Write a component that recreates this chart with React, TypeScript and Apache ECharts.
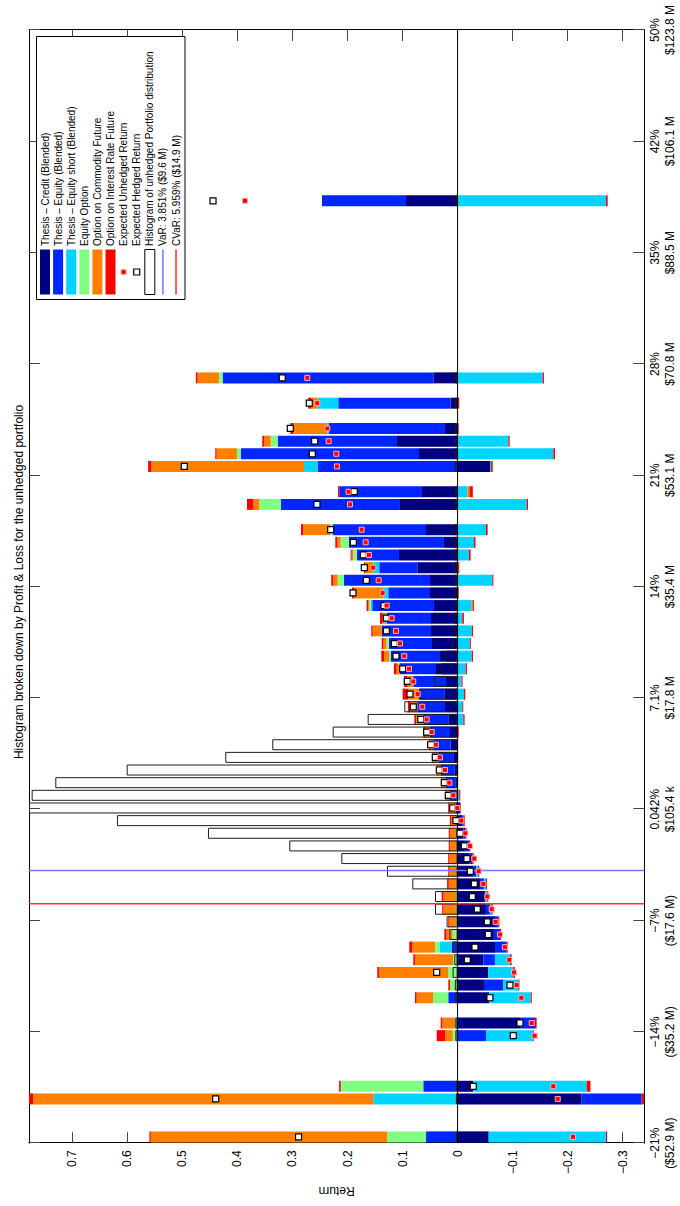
import React, { useEffect, useRef } from 'react';
import * as echarts from 'echarts';

const FONT = '"Liberation Sans", Arial, Helvetica, sans-serif';
const TITLE = 'Histogram broken down by Profit & Loss for the unhedged portfolio';

// 88 histogram bins (categories of the hidden bin axis)
const BIN_COUNT = 88;
const binIds = Array.from({ length: BIN_COUNT }, (_, i) => 'bin' + i);

// return axis (percent) with its tick labels
const returnAxisMin = -21.153;
const returnAxisMax = 49.497;
const returnTickValues = [-21.153, -14.088, -7.023, 0.042, 7.107, 14.172, 21.237, 28.302, 35.367, 42.432, 49.497];
const returnTickLabels = [
  '\u221221%\n($52.9 M)', '\u221214%\n($35.2 M)', '\u22127%\n($17.6 M)', '0.042%\n$105.4 k',
  '7.1%\n$17.8 M', '14%\n$35.4 M', '21%\n$53.1 M', '28%\n$70.8 M', '35%\n$88.5 M',
  '42%\n$106.1 M', '50%\n$123.8 M',
];

// value axis
const valueMin = -0.3393;
const valueMax = 0.7788;
const valueTicks = [-0.3, -0.2, -0.1, 0, 0.1, 0.2, 0.3, 0.4, 0.5, 0.6, 0.7];

const varReturn = -3.851;
const cvarReturn = -5.959;

// bins that hold scenarios (values below are aligned with this list)
const activeBins = [0, 3, 4, 8, 9, 11, 12, 13, 14, 15, 16, 17, 18, 19, 20, 21, 22, 23, 24, 25, 26, 27, 28, 29, 30, 31, 32, 33, 34, 35, 36, 37, 38, 39, 40, 41, 42, 43, 44, 45, 46, 47, 48, 50, 51, 53, 54, 55, 56, 58, 60, 74];

const creditPos = [
  0, 0, 0, 0, 0, 0, 0, 0, 0, 0,
  0, 0, 0, 0, 0, 0, 0, 0, 0, 0,
  0, 0.002, 0.003, 0.005, 0.0066, 0.0127, 0.0138, 0.0169, 0.0229, 0.0242,
  0.0211, 0.0392, 0.0319, 0.0465, 0.0483, 0.0483, 0.0429, 0.0501, 0.0501, 0.0732,
  0.1065, 0.0247, 0.0574, 0.1047, 0.0647, 0, 0.0701, 0.1101, 0.0229, 0.0127,
  0.044, 0.0938,
];
const equityPos = [
  0.0573, 0, 0.0623, 0, 0, 0.0169, 0, 0, 0, 0.0108,
  0, 0, 0, 0, 0, 0, 0, 0, 0, 0,
  0.003, 0.012, 0.0187, 0.0258, 0.0284, 0.0315, 0.0364, 0.0454, 0.0503, 0.0454,
  0.0594, 0.0655, 0.0897, 0.0782, 0.0897, 0.0806, 0.1121, 0.0758, 0.1563, 0.0691,
  0.0763, 0.1727, 0.1696, 0.2162, 0.1503, 0.2543, 0.3235, 0.2168, 0.2108, 0.2041,
  0.383, 0.1526,
];
const shortPos = [
  0, 0.1532, 0, 0, 0.004, 0, 0, 0, 0.003, 0.0212,
  0, 0, 0, 0, 0, 0, 0, 0, 0, 0,
  0, 0, 0, 0, 0, 0, 0, 0, 0, 0,
  0, 0, 0, 0, 0, 0.003, 0.003, 0.0091, 0, 0.0109,
  0, 0, 0, 0, 0, 0.0248, 0, 0, 0.003, 0.0375,
  0, 0,
];
const optionPos = [
  0.0707, 0, 0.15, 0.0089, 0, 0.0273, 0.0138, 0.0169, 0.005, 0.009,
  0.009, 0.003, 0.003, 0.003, 0, 0, 0, 0, 0, 0,
  0, 0, 0, 0, 0, 0, 0, 0, 0, 0,
  0, 0, 0.003, 0.0042, 0, 0, 0.0024, 0, 0.0115, 0,
  0.0067, 0.0151, 0.0049, 0.0394, 0, 0, 0.0073, 0.0127, 0, 0,
  0.0066, 0,
];
const commodityPos = [
  0.4296, 0.618, 0, 0.014, 0.0236, 0.0302, 0, 0.126, 0.0695, 0.0413,
  0.011, 0.012, 0.023, 0.023, 0.016, 0.015, 0.015, 0.014, 0.014, 0.012,
  0.012, 0.006, 0.006, 0.0054, 0.0092, 0.006, 0.009, 0.0133, 0.013, 0.02,
  0.011, 0.006, 0.009, 0.006, 0.0163, 0.0042, 0.0024, 0.0533, 0.008, 0.0138,
  0.003, 0.0061, 0.0485, 0.011, 0, 0.2779, 0.0369, 0.0122, 0.0618, 0.0121,
  0.039, 0,
];
const ratePos = [
  0.0024, 0.0076, 0.003, 0.015, 0.003, 0.003, 0.003, 0.003, 0.003, 0.0055,
  0.004, 0.002, 0.002, 0.003, 0.003, 0.002, 0.002, 0.002, 0.002, 0.002,
  0.002, 0.002, 0.002, 0.002, 0.002, 0.002, 0.003, 0.003, 0.004, 0.0102,
  0.006, 0.005, 0.005, 0.003, 0.0025, 0.0049, 0.0024, 0.0036, 0.0036, 0.003,
  0.0018, 0.0036, 0.0042, 0.0114, 0.0023, 0.0054, 0.0025, 0.0031, 0.0054, 0.0049,
  0.003, 0,
];
const creditNeg = [
  -0.0565, -0.2255, -0.0285, 0, -0.1134, -0.0576, -0.048, -0.0558, -0.0467, -0.068,
  -0.066, -0.0679, -0.0515, -0.0497, -0.0406, -0.0284, -0.0212, -0.0133, -0.0103, -0.009,
  -0.005, 0, 0, 0, 0, 0, 0, 0, 0, 0,
  0, 0, 0, 0, 0, 0, 0, 0, 0, 0,
  0, 0, 0, 0, 0, -0.0589, 0, 0, 0, 0,
  0, 0,
];
const equityNeg = [
  0, -0.109, 0, -0.0516, -0.0273, 0, -0.035, 0, -0.0212, -0.0212,
  -0.011, -0.006, -0.0073, 0, -0.0073, -0.006, -0.006, -0.0079, -0.004, -0.002,
  0, 0, 0, 0, 0, 0, 0, 0, 0, 0,
  0, 0, 0, 0, 0, 0, 0, 0, 0, 0,
  0, 0, 0, 0, 0, 0, 0, 0, 0, 0,
  0, 0,
];
const shortNeg = [
  -0.2132, 0, -0.206, -0.086, 0, -0.0752, -0.0273, -0.0454, -0.0272, 0,
  0, 0, -0.003, -0.0042, -0.0036, -0.003, 0, 0, 0, 0,
  0, -0.003, 0, 0, 0, 0, 0, -0.0104, -0.0085, -0.0117,
  -0.007, -0.0145, -0.026, -0.022, -0.026, -0.0085, -0.0256, 0, -0.063, 0,
  -0.0207, -0.0298, -0.0516, -0.1255, -0.0177, -0.002, -0.174, -0.0922, 0, 0,
  -0.1546, -0.2697,
];
const commodityNeg = [
  0, 0, 0, 0, 0, 0, 0, 0, 0, 0,
  0, 0, 0, 0, 0, 0, 0, 0, 0, 0,
  0, 0, 0, 0, 0, 0, 0, 0, 0, 0,
  0, 0, 0, 0, 0, 0, -0.002, 0, 0, -0.001,
  0, 0, 0, 0, -0.004, 0, 0, 0, 0, 0,
  0, 0,
];
const rateNeg = [
  -0.002, -0.0042, -0.007, -0.0015, -0.003, -0.002, -0.002, -0.003, -0.003, -0.002,
  -0.002, -0.002, -0.002, -0.002, -0.002, -0.002, -0.002, -0.002, -0.002, -0.002,
  -0.001, -0.002, -0.001, -0.001, -0.001, -0.001, -0.002, -0.0023, -0.0018, -0.0023,
  -0.002, -0.0025, -0.002, -0.002, -0.002, -0.003, -0.002, -0.002, -0.002, -0.002,
  -0.003, -0.0027, -0.003, -0.0025, -0.006, -0.003, -0.003, -0.0024, -0.002, -0.003,
  -0.0024, -0.003,
];
const histogram = [
  0.003, 0.003, 0.003, 0.004, 0.004, 0.004, 0.005, 0.009, 0.006, 0.01,
  0.015, 0.02, 0.041, 0.041, 0.0823, 0.1283, 0.2113, 0.3058, 0.4536, 0.619,
  0.7788, 0.774, 0.731, 0.6013, 0.4221, 0.3367, 0.227, 0.1634, 0.0968, 0.07,
  0.0423, 0.03, 0.022, 0.01, 0.006, 0.006, 0.006, 0.006, 0.006, 0.006,
  0.006, 0.006, 0.006, 0.005, 0.005, 0.005, 0.005, 0.005, 0.005, 0.005,
  0.005, 0.004,
];
const hedgedReturn = [
  0.289, 0.4396, -0.0285, -0.1012, -0.1134, -0.0588, -0.0952, 0.038, -0.0176, -0.0316,
  -0.0558, -0.054, -0.0358, -0.0267, -0.0304, -0.0231, -0.017, -0.0122, -0.0044, 0.003,
  0.0089, 0.0169, 0.0242, 0.0332, 0.0405, 0.0489, 0.0562, 0.067, 0.0805, 0.0865,
  0.0914, 0.0998, 0.112, 0.115, 0.1295, 0.1295, 0.1337, 0.1901, 0.1659, 0.1695,
  0.1713, 0.1895, 0.2306, 0.2555, 0.1877, 0.4966, 0.264, 0.2597, 0.304, 0.2695,
  0.3186, 0.4444,
];
const unhedgedReturn = [
  -0.2097, -0.182, -0.174, -0.14, -0.1347, -0.1158, -0.1074, -0.1025, -0.094, -0.086,
  -0.077, -0.069, -0.062, -0.054, -0.0467, -0.0383, -0.0304, -0.0225, -0.014, -0.0067,
  0.0005, 0.0078, 0.015, 0.0229, 0.032, 0.0393, 0.047, 0.0562, 0.0641, 0.0725,
  0.0805, 0.0883, 0.0968, 0.1047, 0.112, 0.1198, 0.1289, 0.1362, 0.1434, 0.1532,
  0.161, 0.167, 0.1743, 0.1955, 0.198, 0.2192, 0.2204, 0.2342, 0.2368, 0.2549,
  0.2731, 0.3863,
];

const components = [
  { name: 'Thesis \u2013 Credit (Blended)', color: '#000080', pos: creditPos, neg: creditNeg },
  { name: 'Thesis \u2013 Equity (Blended)', color: '#0026ff', pos: equityPos, neg: equityNeg },
  { name: 'Thesis \u2013 Equity short (Blended)', color: '#00d4ff', pos: shortPos, neg: shortNeg },
  { name: 'Equity Option', color: '#80ff80', pos: optionPos, neg: null as number[] | null },
  { name: 'Option on Commodity Future', color: '#ff8000', pos: commodityPos, neg: commodityNeg },
  { name: 'Option on Interest Rate Future', color: '#ff0000', pos: ratePos, neg: rateNeg },
];

const VAR_COLOR = '#7575ff';
const CVAR_COLOR = '#ff2e2e';

function expand(values: number[]): (number | null)[] {
  const out: (number | null)[] = new Array(BIN_COUNT).fill(null);
  activeBins.forEach((b, k) => {
    if (values[k] !== 0) out[b] = values[k];
  });
  return out;
}

function fmtValue(v: number): string {
  if (Math.abs(v) < 1e-9) return '0';
  const s = Math.abs(v).toFixed(1);
  return v < 0 ? '\u2212' + s : s;
}

function fmtReturn(v: number): string {
  let best = 0;
  let bd = Infinity;
  returnTickValues.forEach((t, i) => {
    const d = Math.abs(t - v);
    if (d < bd) { bd = d; best = i; }
  });
  return returnTickLabels[best];
}

function buildLegend() {
  const boxX = 906.5, boxY = 36.5, boxW = 263, boxH = 148.5;
  const symX = 911.5, symW = 45, textX = 960, row0 = 45, rowStep = 13.1;
  const els: any[] = [
    { type: 'rect', shape: { x: boxX, y: boxY, width: boxW, height: boxH }, style: { fill: '#fff', stroke: '#000', lineWidth: 1 }, z: 100 },
  ];
  const labels = [
    ...components.map((c) => c.name),
    'Expected Unhedged Return',
    'Expected Hedged Return',
    'Histogram of unhedged Portfolio distribution',
    'VaR: 3.851% ($9.6 M)',
    'CVaR: 5.959% ($14.9 M)',
  ];
  labels.forEach((label, k) => {
    const y = row0 + rowStep * k;
    if (k < 6) {
      els.push({ type: 'rect', shape: { x: symX, y: y - 5, width: symW, height: 10 }, style: { fill: components[k].color }, z: 101 });
    } else if (k === 6) {
      els.push({ type: 'rect', shape: { x: symX + symW / 2 - 2.5, y: y - 2.5, width: 5, height: 5 }, style: { fill: '#ff0000', stroke: '#ffb0b0', lineWidth: 1 }, z: 101 });
    } else if (k === 7) {
      els.push({ type: 'rect', shape: { x: symX + symW / 2 - 3, y: y - 3, width: 6, height: 6 }, style: { fill: '#fff', stroke: '#000', lineWidth: 1.2 }, z: 101 });
    } else if (k === 8) {
      els.push({ type: 'rect', shape: { x: symX, y: y - 5, width: symW, height: 10 }, style: { fill: '#fff', stroke: '#000', lineWidth: 1 }, z: 101 });
    } else {
      els.push({ type: 'line', shape: { x1: symX, y1: y, x2: symX + symW, y2: y }, style: { stroke: k === 9 ? VAR_COLOR : CVAR_COLOR, lineWidth: 1.5 }, z: 101 });
    }
    els.push({
      type: 'text', x: textX, y: y, z: 101,
      style: { text: label, fontSize: 10, fontFamily: FONT, fill: '#000', align: 'left', verticalAlign: 'middle', textAlign: 'left', textVerticalAlign: 'middle' },
    });
  });
  return els;
}

function buildOption() {
  const barCommon = { type: 'bar', xAxisIndex: 0, yAxisIndex: 0, barWidth: 11, barGap: '-100%', stack: 'pnl' };
  const posSeries = components.map((c) => ({ ...barCommon, name: c.name, data: expand(c.pos), itemStyle: { color: c.color }, z: 2 }));
  const negSeries = components
    .filter((c) => c.neg)
    .map((c) => ({ ...barCommon, name: c.name + ' (loss)', data: expand(c.neg as number[]), itemStyle: { color: c.color }, z: 2 }));

  const histSeries = {
    type: 'bar', name: 'Histogram of unhedged Portfolio distribution', xAxisIndex: 0, yAxisIndex: 0,
    barWidth: 11, barGap: '-100%', data: expand(histogram),
    itemStyle: { color: 'rgba(255,255,255,0)', borderColor: '#1e1e1e', borderWidth: 1 }, z: 3,
  };

  const vLine = (x: number, color: string, name: string) => ({
    type: 'line', name, xAxisIndex: 1, yAxisIndex: 0, symbol: 'none', silent: true,
    data: [[x, valueMin], [x, valueMax]], lineStyle: { color, width: 1.5 }, z: 5,
  });

  const zeroLine = {
    type: 'line', name: 'zero', xAxisIndex: 1, yAxisIndex: 0, symbol: 'none', silent: true,
    data: [[returnAxisMin, 0], [returnAxisMax, 0]], lineStyle: { color: '#000', width: 1 }, z: 4,
  };

  const hedged = {
    type: 'scatter', name: 'Expected Hedged Return', xAxisIndex: 0, yAxisIndex: 0,
    data: activeBins.map((b, k) => [b, hedgedReturn[k]]), symbol: 'rect', symbolSize: 6,
    itemStyle: { color: '#fff', borderColor: '#000', borderWidth: 1.2, opacity: 1 }, z: 6,
  };
  const unhedged = {
    type: 'scatter', name: 'Expected Unhedged Return', xAxisIndex: 0, yAxisIndex: 0,
    data: activeBins.map((b, k) => [b, unhedgedReturn[k]]), symbol: 'rect', symbolSize: 5,
    itemStyle: { color: '#ff0000', borderColor: '#ffb0b0', borderWidth: 1, opacity: 1 }, z: 7,
  };

  const tickStyle = { color: '#444', width: 1 };
  const lineStyle = { color: '#000', width: 1 };

  return {
    animation: false,
    backgroundColor: '#fff',
    textStyle: { fontFamily: FONT },
    title: {
      text: TITLE, left: 619, top: 8, textAlign: 'center',
      textStyle: { fontSize: 12, fontWeight: 'normal', color: '#000', fontFamily: FONT },
    },
    grid: { left: 62.8, right: 30, top: 29, bottom: 35.7, containLabel: false },
    xAxis: [
      { type: 'category', data: binIds, show: false, boundaryGap: true },
      {
        type: 'value', min: returnAxisMin, max: returnAxisMax, position: 'bottom',
        axisLine: { show: true, onZero: false, lineStyle },
        axisTick: { show: true, inside: true, length: 11, customValues: returnTickValues, lineStyle: tickStyle },
        axisLabel: { show: true, customValues: returnTickValues, formatter: fmtReturn, fontSize: 12, lineHeight: 15, margin: 3, color: '#000', fontFamily: FONT },
        splitLine: { show: false },
      },
      {
        type: 'value', min: returnAxisMin, max: returnAxisMax, position: 'top',
        axisLine: { show: true, onZero: false, lineStyle },
        axisTick: { show: true, inside: true, length: 11, customValues: returnTickValues, lineStyle: tickStyle },
        axisLabel: { show: false },
        splitLine: { show: false },
      },
    ],
    yAxis: [
      {
        type: 'value', min: valueMin, max: valueMax, position: 'left',
        name: 'Return', nameLocation: 'middle', nameGap: 41,
        nameTextStyle: { fontSize: 12, color: '#000', fontFamily: FONT },
        axisLine: { show: true, onZero: false, lineStyle },
        axisTick: { show: true, inside: true, length: 11, customValues: valueTicks, lineStyle: tickStyle },
        axisLabel: { show: true, customValues: valueTicks, formatter: fmtValue, fontSize: 12, margin: 7, color: '#000', fontFamily: FONT },
        splitLine: { show: false },
      },
      {
        type: 'value', min: valueMin, max: valueMax, position: 'right',
        axisLine: { show: true, onZero: false, lineStyle },
        axisTick: { show: true, inside: true, length: 11, customValues: valueTicks, lineStyle: tickStyle },
        axisLabel: { show: false },
        splitLine: { show: false },
      },
    ],
    graphic: buildLegend(),
    series: [
      ...posSeries,
      ...negSeries,
      histSeries,
      zeroLine,
      vLine(varReturn, VAR_COLOR, 'VaR'),
      vLine(cvarReturn, CVAR_COLOR, 'CVaR'),
      hedged,
      unhedged,
    ],
  };
}

export default function App() {
  const ref = useRef<HTMLDivElement>(null);
  useEffect(() => {
    if (!ref.current) return;
    const chart = echarts.init(ref.current, undefined, { renderer: 'svg' });
    chart.setOption(buildOption() as any);
    return () => chart.dispose();
  }, []);
  return (
    <div style={{ position: 'absolute', left: 0, top: 0, width: 680, height: 1206, overflow: 'hidden', background: '#fff' }}>
      <div
        ref={ref}
        style={{
          position: 'absolute', left: 0, top: 0, width: 1206, height: 680,
          transformOrigin: '0 0', transform: 'translate(0px, 1206px) rotate(-90deg)',
        }}
      />
    </div>
  );
}
